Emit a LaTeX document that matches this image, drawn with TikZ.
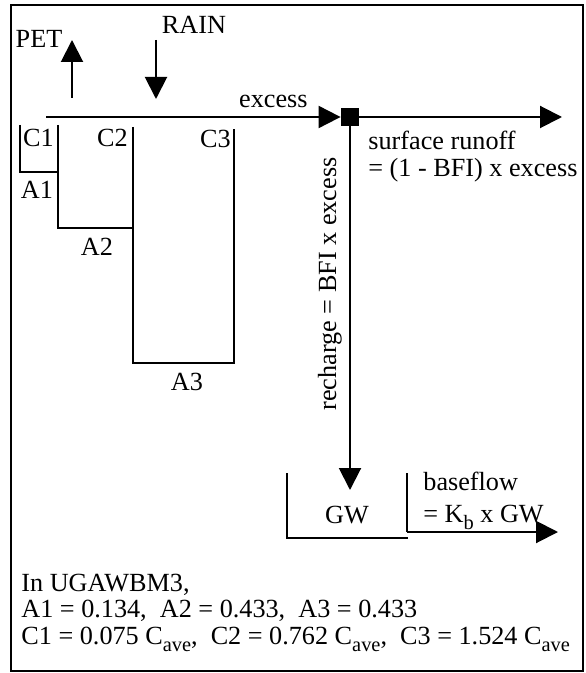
\documentclass[tikz,border=0pt]{standalone}
\usepackage{fontspec}
\setmainfont{Liberation Serif}
\usetikzlibrary{arrows.meta, positioning}
\newcommand{\lowtxt}[1]{\raisebox{-3.5pt}{\fontsize{10.2}{12}\selectfont #1}}

\begin{document}
\begin{tikzpicture}[
    x=0.5pt, y=-0.5pt,
    every node/.style={font=\fontsize{13.1}{15}\selectfont, inner sep=0pt},
    frame/.style={line width=1.4pt},
    wall/.style={line width=1pt},
    flow/.style={line width=1pt, -{Triangle[length=11pt, width=11pt]}},
    junction/.style={rectangle, fill=black, minimum size=9pt, inner sep=0pt, font=\tiny}
]
\useasboundingbox (0,0) rectangle (585,673);

% ============== Marco ==============
\draw[frame] (11,5) rectangle (583,671);

% ============== Tanques (izquierda) ==============
\draw[wall] (20,125) |- (58,172);
\draw[wall] (58,125) |- (133,228);
\draw[wall] (133,127) |- (234,363) -- (234,129);

\node[anchor=east] (c1) at (54,138) {C1};
\node[anchor=east] (c2) at (128,138) {C2};
\node[anchor=east] (c3) at (231,139) {C3};
\node (a1) at (37,190) {A1};
\node (a2) at (97,247) {A2};
\node (a3) at (187,382) {A3};

% ============== Entradas/salidas ==============
\coordinate (petfoot) at (72,98);
\coordinate (pettip) at (72,40);
\coordinate (raintop) at (156,40);
\coordinate (raintip) at (156,99);
\node (pet) at (39,39) {PET};
\node (rain) at (194,25) {RAIN};
\draw[flow] (petfoot) -- (pettip);
\draw[flow] (raintop) -- (raintip);

% ============== Exceso y escorrentia ==============
\node[junction] (jn) at (350,117) {};
\coordinate (exstart) at (46,117);
\coordinate (runend) at (562,117);
\draw[flow] (exstart) -- (jn.west);
\draw[flow] (jn.east) -- (runend);
\node[anchor=base east] (excess) at (308,108) {excess};
\node[anchor=base west] (runoff) at (368,150) {surface runoff};
\node[anchor=base west] (runoffeq) at (368,177) {= (1 - BFI) x excess};

% ============== Recarga ==============
\coordinate (gwtip) at (350,490);
\draw[flow] (jn.south) -- (gwtip);
\node[rotate=90, anchor=base] (recharge) at (336,284) {recharge = BFI x excess};

% ============== Tanque GW ==============
\draw[wall] (287,473) |- (408,538);
\draw[wall] (407,473) -- (407,532);
\node (gw) at (347,515) {GW};
\coordinate (bfstart) at (407,532);
\coordinate (bfend) at (558,532);
\draw[flow] (bfstart) -- (bfend);
\node[anchor=base west] (baseflow) at (423,490) {baseflow};
\node[anchor=base west] (baseflowq) at (423,522) {= K\lowtxt{b} x GW};

% ============== Parametros ==============
\node[anchor=base west] (model) at (21,591) {In UGAWBM3,};
\node[anchor=base west] (avals) at (21,617) {A1 = 0.134,\enspace A2 = 0.433,\enspace A3 = 0.433};
\node[anchor=base west] (cvals) at (21,644) {C1 = 0.075 C\lowtxt{ave},\enspace C2 = 0.762 C\lowtxt{ave},\enspace C3 = 1.524 C\lowtxt{ave}};
\end{tikzpicture}
\end{document}
